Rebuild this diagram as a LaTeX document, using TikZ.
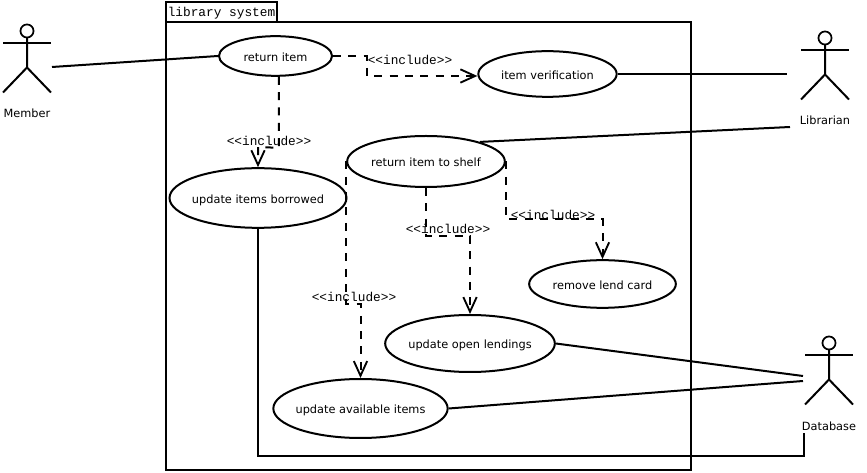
\documentclass[tikz,border=0pt]{standalone}
\usepackage{fontspec}
\setmainfont{DejaVu Sans}
\setmonofont{Liberation Mono}
\usetikzlibrary{arrows.meta,shapes.geometric}
\tikzset{
  ucase/.style={draw, ellipse, inner sep=-14pt, text height=8.5pt, text depth=0.5pt, line width=1.5pt, align=center, font=\fontsize{8.5}{10}\selectfont},
  pkg/.style={draw, rectangle, line width=1.5pt, inner sep=0pt},
  incl/.style={font=\ttfamily\fontsize{9.6}{11}\selectfont, inner sep=0pt},
  actname/.style={font=\fontsize{8.5}{10}\selectfont, inner sep=0pt},
  assoc/.style={line width=1.5pt},
  darr/.style={-{Straight Barb[length=11pt,width=10pt,line width=1.4pt]}, line width=1.5pt, dash pattern=on 6pt off 5.5pt},
  actor/.pic={
    \draw[line width=1.3pt] (0,-6.5) circle (4.9pt);
    \draw[line width=1.5pt] (-24,5.5) -- (24,5.5);
    \draw[line width=1.5pt] (0,0) -- (0,30) (-24,55) -- (0,30) -- (24,55);
  },
}
\begin{document}
\begin{tikzpicture}[x=0.75pt, y=-0.75pt]
\useasboundingbox (0,0) rectangle (867,473);

% system frame
\node[pkg, anchor=north west, minimum width=393.75pt, minimum height=336pt] (frame) at (164.7,20.7) {};
\node[pkg, anchor=south west, minimum width=83.25pt, minimum height=15pt] (tab) at (164.7,22.7) {};
\node[incl, anchor=west] (tabname) at (167.5,13) {library system};

% use cases
\node[ucase, minimum width=84.75pt, minimum height=29.75pt] (retitem) at (275.5,56) {return item};
\node[ucase, minimum width=132.75pt, minimum height=44.75pt] (borrowed) at (258,198) {update items borrowed};
\node[ucase, minimum width=103.75pt, minimum height=34.25pt] (verif) at (547.5,74) {item verification};
\node[ucase, minimum width=118.25pt, minimum height=38.25pt] (shelf) at (426,161.5) {return item to shelf};
\node[ucase, minimum width=110pt, minimum height=35.75pt] (lendcard) at (602.5,284) {remove lend card};
\node[ucase, minimum width=127.25pt, minimum height=42.75pt] (openlend) at (470,343.5) {update open lendings};
\node[ucase, minimum width=130.75pt, minimum height=44.25pt] (avail) at (360.5,408.5) {update available items};

% actors
\pic at (27,37.5) {actor};
\pic at (825,44.5) {actor};
\pic at (829,349.5) {actor};
\node[actname] (member) at (27,113.5) {Member};
\node[actname] (librarian) at (825,120.5) {Librarian};
\node[actname] (database) at (829,426) {Database};

\coordinate (memberend) at (52,67);
\coordinate (librarianup) at (790,127);
\coordinate (librariandn) at (787,74);
\coordinate (dbup) at (803,376);
\coordinate (dbdn) at (803,381);
\coordinate (dbfoot) at (804,433);

% associations
\draw[assoc] (memberend) -- (retitem.west);
\draw[assoc] (verif.east) -- (librariandn);
\draw[assoc] (shelf.20) -- (librarianup);
\draw[assoc] (openlend.east) -- (dbup);
\draw[assoc] (avail.east) -- (dbdn);
\draw[assoc] (borrowed.south) -- ++(0,227) -| (dbfoot);

% includes
\draw[darr] (retitem.east) -- ++(34,0) -- ++(0,20) -- ([yshift=-1.5pt]verif.west);
\draw[darr] ([xshift=2.6pt]retitem.south) -- ++(0,71) -- (borrowed.north |- 0,147) -- (borrowed.north);
\draw[darr] (shelf.east) -- ++(0,58) -| (lendcard.north);
\draw[darr] (shelf.south) -- ++(0,48) -| (openlend.north);
\draw[darr] (shelf.west) -- ++(0,143) -| (avail.north);

\node[incl] (lblverif) at (410,59.5) {<{}<include>{}>};
\node[incl] (lblborrow) at (269,140.5) {<{}<include>{}>};
\node[incl] (lblcard) at (553,214.5) {<{}<include>{}>};
\node[incl] (lblopen) at (448,228.5) {<{}<include>{}>};
\node[incl] (lblavail) at (354,296.5) {<{}<include>{}>};

\end{tikzpicture}
\end{document}
